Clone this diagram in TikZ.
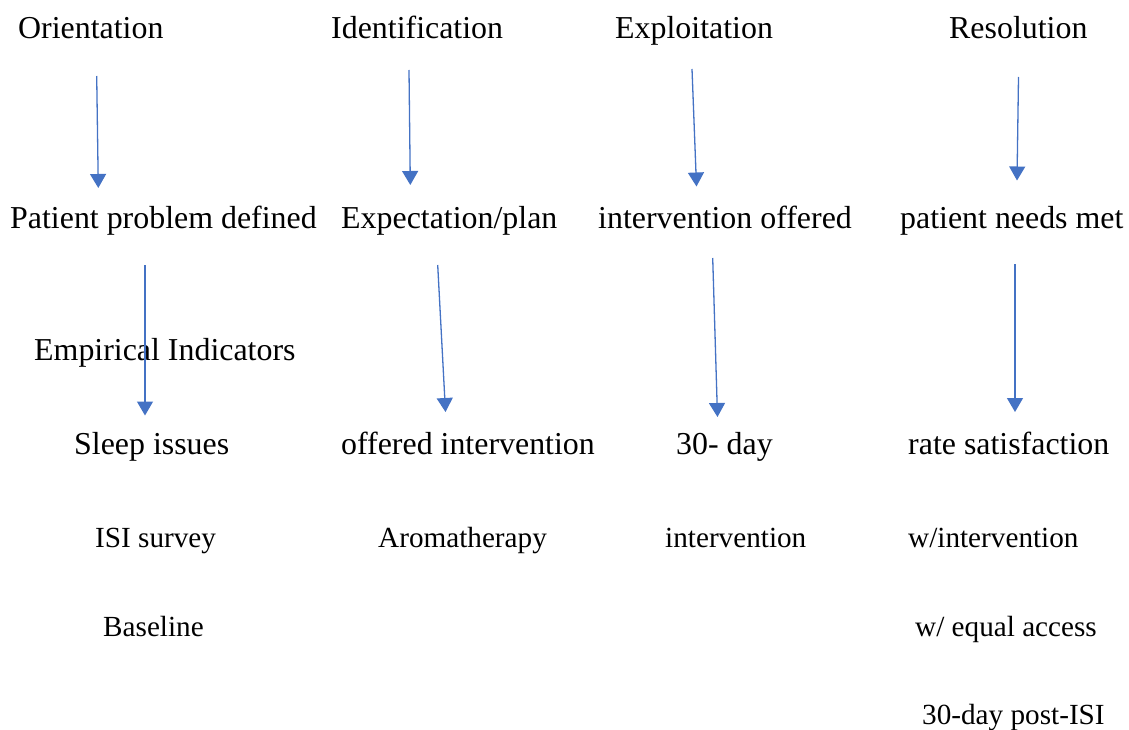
\documentclass[tikz,border=0pt]{standalone}
\usepackage{fontspec}
\setmainfont{Liberation Serif}
\usetikzlibrary{arrows.meta}
\definecolor{arrowblue}{HTML}{4472C4}
\begin{document}
\begin{tikzpicture}[x=1pt,y=-1pt,
  big/.style={inner sep=0pt,anchor=base west,font=\fontsize{31.9}{38}\selectfont},
  small/.style={inner sep=0pt,anchor=base west,font=\fontsize{29.2}{35}\selectfont},
  flow/.style={draw=arrowblue,line width=1.3pt,-{Triangle[width=16pt,length=14pt]}}]
\useasboundingbox (0,0) rectangle (1129,730);
% row 1
\node[big] (orient) at (18,39) {Orientation};
\node[big] (ident) at (331,39) {Identification};
\node[big] (exploit) at (615,39) {Exploitation};
\node[big] (resol) at (949,39) {Resolution};
% row 2
\node[big] (prob) at (10,228) {Patient problem defined};
\node[big] (expect) at (341,228) {Expectation/plan};
\node[big] (offered) at (598,228) {intervention offered};
\node[big] (needs) at (900,228) {patient needs met};
% empirical
\node[big] (emp) at (34,360) {Empirical Indicators};
% row 3
\node[big] (sleep) at (74,454) {Sleep issues};
\node[big] (offint) at (341,454) {offered intervention};
\node[big] (thirty) at (676,454) {30- day};
\node[big] (rate) at (908,454) {rate satisfaction};
% row 4
\node[small] (isi) at (95,547) {ISI survey};
\node[small] (aroma) at (378,547) {Aromatherapy};
\node[small] (interv) at (665,547) {intervention};
\node[small] (wint) at (908,547) {w/intervention};
% row 5
\node[small] (base) at (103,636) {Baseline};
\node[small] (equal) at (915,636) {w/ equal access};
% row 6
\node[small] (post) at (922,724) {30-day post-ISI};
% arrow end points
\coordinate (a1s) at (96.7,76);   \coordinate (a1e) at (98.3,188);
\coordinate (a2s) at (409,70);    \coordinate (a2e) at (410.3,185);
\coordinate (a3s) at (692,69);    \coordinate (a3e) at (696.5,186.5);
\coordinate (a4s) at (1018.5,77); \coordinate (a4e) at (1017,180.5);
\coordinate (a5s) at (145,265);   \coordinate (a5e) at (145,415.5);
\coordinate (a6s) at (437.7,265); \coordinate (a6e) at (445.5,412);
\coordinate (a7s) at (712.7,258); \coordinate (a7e) at (717.5,417);
\coordinate (a8s) at (1015,264);  \coordinate (a8e) at (1015,412);
\foreach \i in {1,...,8} {\draw[flow] (a\i s) -- (a\i e);}
\end{tikzpicture}
\end{document}
